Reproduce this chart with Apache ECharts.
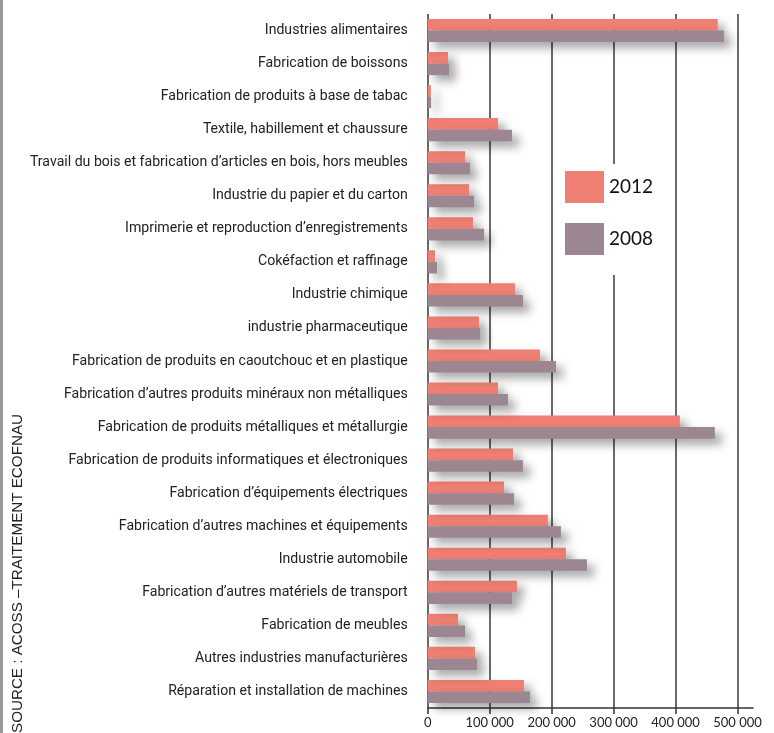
<!DOCTYPE html>
<html>
<head>
<meta charset="utf-8">
<script src="https://cdn.jsdelivr.net/npm/echarts@6/dist/echarts.min.js"></script>
<style>
html,body{margin:0;padding:0;background:#fff;}
#chart{width:774px;height:733px;}
</style>
</head>
<body>
<div id="chart"></div>
<script>
const categories = [
  "Industries alimentaires",
  "Fabrication de boissons",
  "Fabrication de produits à base de tabac",
  "Textile, habillement et chaussure",
  "Travail du bois et fabrication d’articles en bois, hors meubles",
  "Industrie du papier et du carton",
  "Imprimerie et reproduction d’enregistrements",
  "Cokéfaction et raffinage",
  "Industrie chimique",
  "industrie pharmaceutique",
  "Fabrication de produits en caoutchouc et en plastique",
  "Fabrication d’autres produits minéraux non métalliques",
  "Fabrication de produits métalliques et métallurgie",
  "Fabrication de produits informatiques et électroniques",
  "Fabrication d’équipements électriques",
  "Fabrication d’autres machines et équipements",
  "Industrie automobile",
  "Fabrication d’autres matériels de transport",
  "Fabrication de meubles",
  "Autres industries manufacturières",
  "Réparation et installation de machines"
];
const values2012 = [468000, 32700, 5000, 113400, 60200, 66600, 73100, 11800, 140800, 82700, 181100, 113400, 407000, 137600, 123100, 194000, 223100, 144000, 48900, 76300, 155300];
const values2008 = [478000, 34400, 5500, 136000, 68200, 74700, 90800, 15000, 153700, 84400, 207000, 129500, 463400, 153700, 139200, 215000, 257000, 136000, 60200, 79500, 165000];
const tickValues = [0, 100000, 200000, 300000, 400000, 500000];
const seriesNames = ["2012", "2008"];
const sourceText = "SOURCE : ACOSS –TRAITEMENT ECOFNAU";

const chart = echarts.init(document.getElementById('chart'), null, {renderer: 'canvas'});
const fmt = v => String(v).replace(/\B(?=(\d{3})+(?!\d))/g, '\u202F');
const shadow = {shadowBlur: 10, shadowOffsetX: 7, shadowOffsetY: 6, shadowColor: 'rgba(0,0,0,0.35)'};

chart.setOption({
  animation: false,
  backgroundColor: '#fff',
  grid: {left: 427.7, right: 21, top: 14, bottom: 25, containLabel: false},
  legend: {
    data: seriesNames,
    orient: 'vertical',
    left: 560, top: 164,
    padding: [7, 14, 20, 5],
    itemWidth: 39, itemHeight: 32, itemGap: 20,
    backgroundColor: '#fff',
    icon: 'rect',
    textStyle: {fontFamily: 'Lato', fontSize: 19, color: '#111', padding: [4, 0, 0, 0]},
    itemStyle: {shadowBlur: 0, shadowOffsetX: 0, shadowOffsetY: 0}
  },
  xAxis: {
    type: 'value', min: 0, max: 525000, interval: 100000,
    axisLine: {show: true, lineStyle: {color: '#333', width: 1.5}},
    axisTick: {show: true, customValues: tickValues, length: 6, lineStyle: {color: '#333', width: 1.5}},
    axisLabel: {customValues: tickValues, formatter: fmt, fontFamily: 'Lato', fontSize: 13, color: '#222', margin: 8},
    splitLine: {show: true, lineStyle: {color: '#3a3a3a', width: 1.5}}
  },
  yAxis: {
    type: 'category', data: categories, inverse: true,
    axisLine: {show: false}, axisTick: {show: false},
    axisLabel: {fontFamily: 'Roboto', fontSize: 14.1, color: '#222', margin: 20}
  },
  series: [
    {name: seriesNames[0], type: 'bar', data: values2012, barGap: '0%', barCategoryGap: '30%',
     itemStyle: Object.assign({color: '#EE7F72'}, shadow)},
    {name: seriesNames[1], type: 'bar', data: values2008, barGap: '0%', barCategoryGap: '30%',
     itemStyle: Object.assign({color: '#9C8692'}, shadow)}
  ],
  graphic: [
    {type: 'rect', left: 0, top: 0, shape: {width: 3, height: 733}, style: {fill: '#999'}},
    {type: 'text', x: 18, y: 733, rotation: Math.PI / 2,
     style: {text: sourceText, fontFamily: 'Liberation Sans', fontSize: 15.2, fill: '#222', align: 'left', verticalAlign: 'middle'}}
  ]
});
</script>
</body>
</html>
